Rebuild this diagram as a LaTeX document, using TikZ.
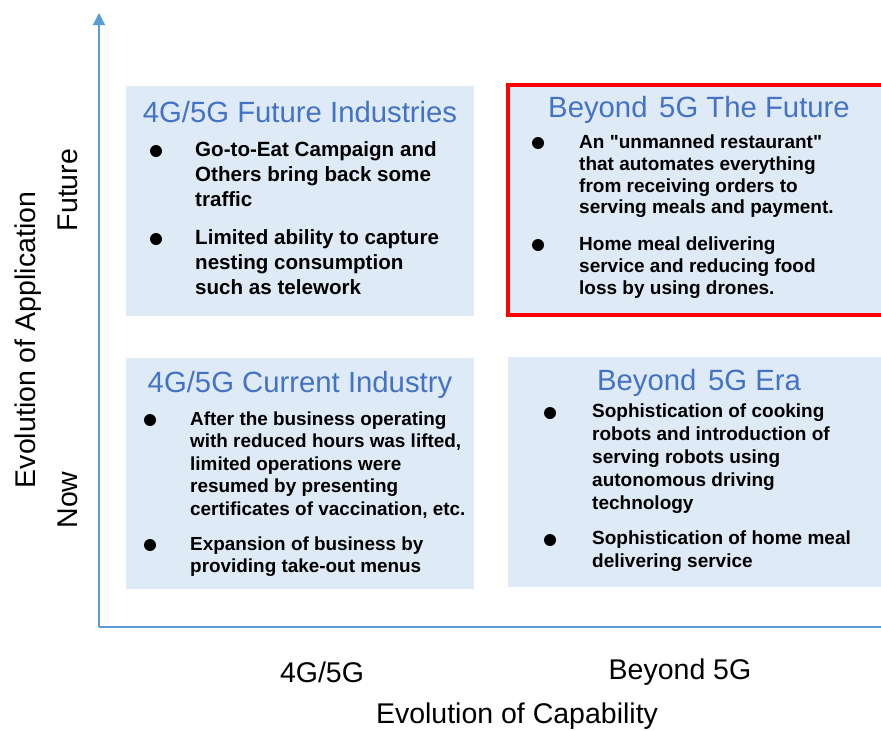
\documentclass[tikz,border=0pt]{standalone}
\usepackage{fontspec}
\setmainfont{Liberation Sans}
\usetikzlibrary{arrows.meta}
\definecolor{boxfill}{HTML}{DEEBF7}
\definecolor{titleblue}{HTML}{4472C4}
\definecolor{axisblue}{HTML}{5B9BD5}
\definecolor{redframe}{HTML}{FF0000}
\begin{document}
\begin{tikzpicture}[x=1pt,y=-1pt,
  quad/.style={fill=boxfill},
  qtitle/.style={font=\fontsize{29.3}{33}\selectfont,text=titleblue,inner sep=0pt},
  lbl/.style={font=\fontsize{28.5}{32}\selectfont,text=black,inner sep=0pt},
  btxtA/.style={font=\bfseries\fontsize{20.6}{25}\selectfont,align=left,anchor=north west,inner sep=0pt,execute at begin node=\strut},
  btxtB/.style={font=\bfseries\fontsize{19}{21.7}\selectfont,align=left,anchor=north west,inner sep=0pt,execute at begin node=\strut},
  btxtC/.style={font=\bfseries\fontsize{18.9}{22.5}\selectfont,align=left,anchor=north west,inner sep=0pt,execute at begin node=\strut},
  btxtD/.style={font=\bfseries\fontsize{19}{23}\selectfont,align=left,anchor=north west,inner sep=0pt,execute at begin node=\strut},
  dot/.style={fill=black},
  axis/.style={draw=axisblue,line width=1.3pt}
]
\useasboundingbox (0,0) rectangle (881,731);
\clip (0,0) rectangle (881,731);
\fill[white] (0,0) rectangle (881,731);

% quadrants
\path[quad] (126,86) rectangle (474,316);
\path[quad] (508,85) rectangle (895,316);
\draw[redframe,line width=4.5pt] (508,85) rectangle (895,315);
\path[quad] (126,358) rectangle (474,589);
\path[quad] (508,357) rectangle (895,587);

% axes
\coordinate (origin) at (99,627);
\coordinate (ytop) at (99,13);
\coordinate (xend) at (881,627);
\draw[axis,-{Triangle[width=12pt,length=12pt]}] (origin) -- (ytop);
\draw[axis] (origin) -- (xend);

% titles
\node[qtitle] (t1) at (300,112) {4G/5G Future Industries};
\node[qtitle] (t2) at (699,110) {Beyond\hspace{0.12em} 5G The Future};
\node[qtitle] (t3) at (300,385) {4G/5G Current Industry};
\node[qtitle] (t4) at (699,383) {Beyond\hspace{0.12em} 5G Era};

% TL bullets
\fill[dot] (156,151) circle [radius=6pt];
\node[btxtA] (a1) at (195,140.9) {Go-to-Eat Campaign and\\Others bring back some\\traffic};
\fill[dot] (156,239) circle [radius=6pt];
\node[btxtA] (a2) at (195,228.9) {Limited ability to capture\\nesting consumption\\such as telework};

% TR bullets
\fill[dot] (538,143) circle [radius=6pt];
\node[btxtB] (b1) at (579,134.7) {An \textquotedbl unmanned restaurant\textquotedbl\\that automates everything\\from receiving orders to\\serving meals and payment.};
\fill[dot] (538,245) circle [radius=6pt];
\node[btxtB] (b2) at (579,236.7) {Home meal delivering\\service and reducing food\\loss by using drones.};

% BL bullets
\fill[dot] (150,420) circle [radius=6pt];
\node[btxtC] (c1) at (190,411.1) {After the business operating\\with reduced hours was lifted,\\limited operations were\\resumed by presenting\\certificates of vaccination, etc.};
\fill[dot] (150,545) circle [radius=6pt];
\node[btxtC] (c2) at (190,536.1) {Expansion of business by\\providing take-out menus};

% BR bullets
\fill[dot] (550,413) circle [radius=6pt];
\node[btxtD] (d1) at (592,403.7) {Sophistication of cooking\\robots and introduction of\\serving robots using\\autonomous driving\\technology};
\fill[dot] (550,540) circle [radius=6pt];
\node[btxtD] (d2) at (592,530.7) {Sophistication of home meal\\delivering service};

% axis labels
\node[lbl,rotate=90] (yl) at (28,340) {Evolution of Application};
\node[lbl,rotate=90] (yf) at (68,190) {Future};
\node[lbl,rotate=90] (yn) at (68,500) {Now};
\node[lbl] (x1) at (322,672) {4G/5G};
\node[lbl] (x2) at (680,672) {Beyond 5G};
\node[lbl] (xl) at (517,716) {Evolution of Capability};
\end{tikzpicture}
\end{document}
